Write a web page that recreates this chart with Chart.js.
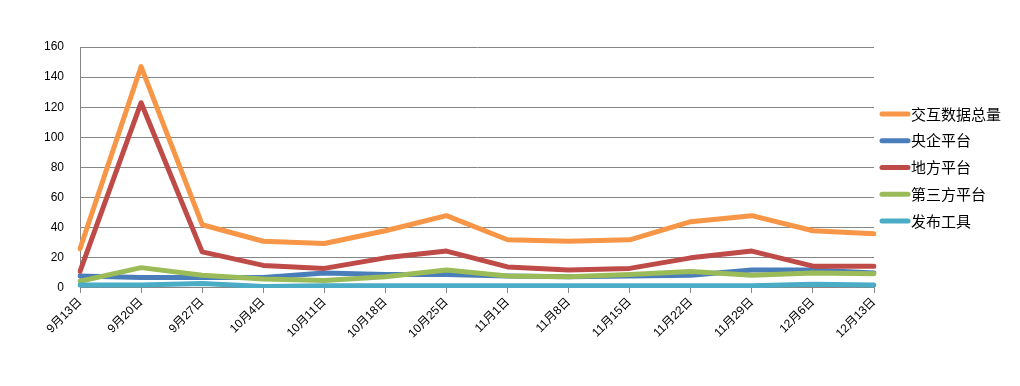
<!DOCTYPE html>
<html>
<head>
<meta charset="utf-8">
<script src="https://cdn.jsdelivr.net/npm/chart.js@4"></script>
<style>
  html, body { margin: 0; padding: 0; background: #fff; }
  #wrap { width: 1020px; height: 386px; }
</style>
</head>
<body>
<div id="wrap"><canvas id="myChart" width="1020" height="386"></canvas></div>
<script>
// ─── DATI ─────────────────────────────────────────────
const weeks = ["9月13日", "9月20日", "9月27日", "10月4日", "10月11日", "10月18日", "10月25日",
  "11月1日", "11月8日", "11月15日", "11月22日", "11月29日", "12月6日", "12月13日"];

const totalData = [26, 147, 42, 31, 29.5, 38, 48, 32, 31, 32, 44, 48, 38, 36];
const centralData = [8, 7, 7, 7, 10, 9, 9, 8, 7.5, 8, 8.5, 12, 12, 10];
const localData = [11, 123, 24, 15, 13, 20, 24.5, 14, 12, 13, 20, 24.5, 14.5, 14.5];
const thirdData = [4.5, 13.5, 8.5, 6, 5, 7.5, 12, 8, 7.5, 9, 11, 8.5, 10, 9.5];
const toolData = [2, 2, 3, 1, 1.5, 1.5, 1.5, 1.5, 1.5, 1.5, 1.5, 1.5, 2.5, 2];

const yTicks = [0, 20, 40, 60, 80, 100, 120, 140, 160];

const FONT = "'Liberation Sans', 'Noto Sans CJK SC', sans-serif";

function line(label, data, color, order) {
  return {
    label,
    data,
    borderColor: color,
    backgroundColor: color,
    borderWidth: 5,
    pointRadius: 0,
    tension: 0,
    borderCapStyle: "round",
    borderJoinStyle: "round",
    order,
  };
}

// legenda a destra, stile Excel (linea + testo attaccato)
const sideLegend = {
  id: "sideLegend",
  afterDraw(chart) {
    const { ctx, chartArea } = chart;
    const mid = (chartArea.top + chartArea.bottom) / 2;
    const x0 = chartArea.right + 6;
    const n = chart.data.datasets.length;
    ctx.save();
    ctx.font = "15px 'Noto Sans CJK SC', sans-serif";
    ctx.textBaseline = "middle";
    ctx.fillStyle = "#000";
    chart.data.datasets.forEach((ds, i) => {
      const y = mid + (i - (n - 1) / 2) * 26.8;
      ctx.beginPath();
      ctx.strokeStyle = ds.borderColor;
      ctx.lineWidth = 5;
      ctx.lineCap = "round";
      ctx.moveTo(x0 + 2, y);
      ctx.lineTo(x0 + 28, y);
      ctx.stroke();
      ctx.fillText(ds.label, x0 + 31, y);
    });
    ctx.restore();
  },
};

new Chart(document.getElementById("myChart").getContext("2d"), {
  type: "line",
  data: {
    labels: weeks,
    datasets: [
      line("交互数据总量", totalData, "#f79646", 5),
      line("央企平台", centralData, "#4a7ebb", 4),
      line("地方平台", localData, "#be4b48", 3),
      line("第三方平台", thirdData, "#9bbb59", 2),
      line("发布工具", toolData, "#4bacc6", 1),
    ],
  },
  plugins: [sideLegend],
  options: {
    responsive: false,
    animation: false,
    layout: { padding: { top: 47, left: 28, right: 146, bottom: 43 } },
    plugins: {
      tooltip: { enabled: false },
      legend: { display: false },
    },
    scales: {
      x: {
        offset: false,
        grid: { drawOnChartArea: false, color: "#868686", tickLength: 5 },
        border: { color: "#868686" },
        ticks: {
          color: "#000",
          font: { family: FONT, size: 12 },
          minRotation: 45,
          maxRotation: 45,
          autoSkip: false,
          padding: 2,
        },
      },
      y: {
        min: 0,
        max: 160,
        afterBuildTicks: (axis) => { axis.ticks = yTicks.map((v) => ({ value: v })); },
        grid: { color: "#868686", tickLength: 5, drawTicks: false },
        border: { color: "#868686" },
        ticks: { color: "#000", font: { family: FONT, size: 12 }, padding: 16 },
      },
    },
  },
});
</script>
</body>
</html>
